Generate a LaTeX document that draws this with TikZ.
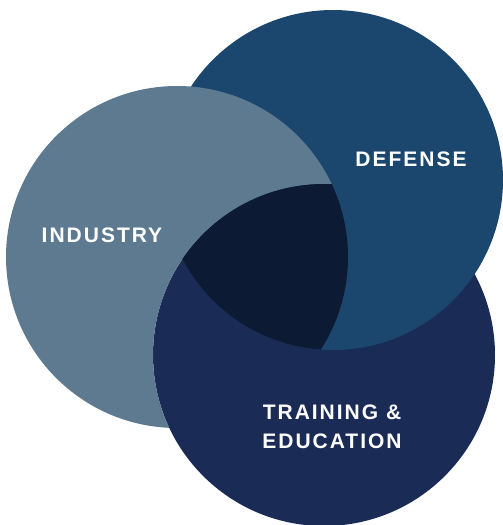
\documentclass[tikz,border=0pt]{standalone}
\usepackage{fontspec}
\usepackage{tikz}
\usetikzlibrary{positioning}
\newfontfamily\vennfont[LetterSpace=9.5]{Liberation Sans}
\definecolor{industryc}{HTML}{5E7A91}
\definecolor{defensec}{HTML}{1B466E}
\definecolor{trainingc}{HTML}{1A2B55}
\definecolor{corec}{HTML}{0C1A33}

\begin{document}
\begin{tikzpicture}[x=1pt, y=-1pt,
    venntext/.style={text=white, font=\vennfont\bfseries\fontsize{21}{29}\selectfont, align=center}]
    \useasboundingbox (0,0) rectangle (503,525);

    % Circle centres
    \coordinate (ind) at (177,257);
    \coordinate (def) at (333,180);
    \coordinate (tra) at (324,355);

    % Training, then Defense on top of it
    \fill[trainingc] (tra) circle[radius=171];
    \fill[defensec] (def) circle[radius=170];

    % Industry on top of Defense, but under Training
    \begin{scope}[even odd rule]
        \clip (-20,-20) rectangle (523,545) (tra) circle[radius=171];
        \fill[industryc] (ind) circle[radius=171];
    \end{scope}

    % Common part of all three
    \begin{scope}
        \clip (tra) circle[radius=171];
        \clip (def) circle[radius=170];
        \fill[corec] (ind) circle[radius=171];
    \end{scope}

    % Labels
    \node[venntext] (industry) at (102,235) {INDUSTRY};
    \node[venntext] (defense) at (411,159) {DEFENSE};
    \node[venntext] (training) at (332,427) {TRAINING \&\\EDUCATION};
\end{tikzpicture}
\end{document}
